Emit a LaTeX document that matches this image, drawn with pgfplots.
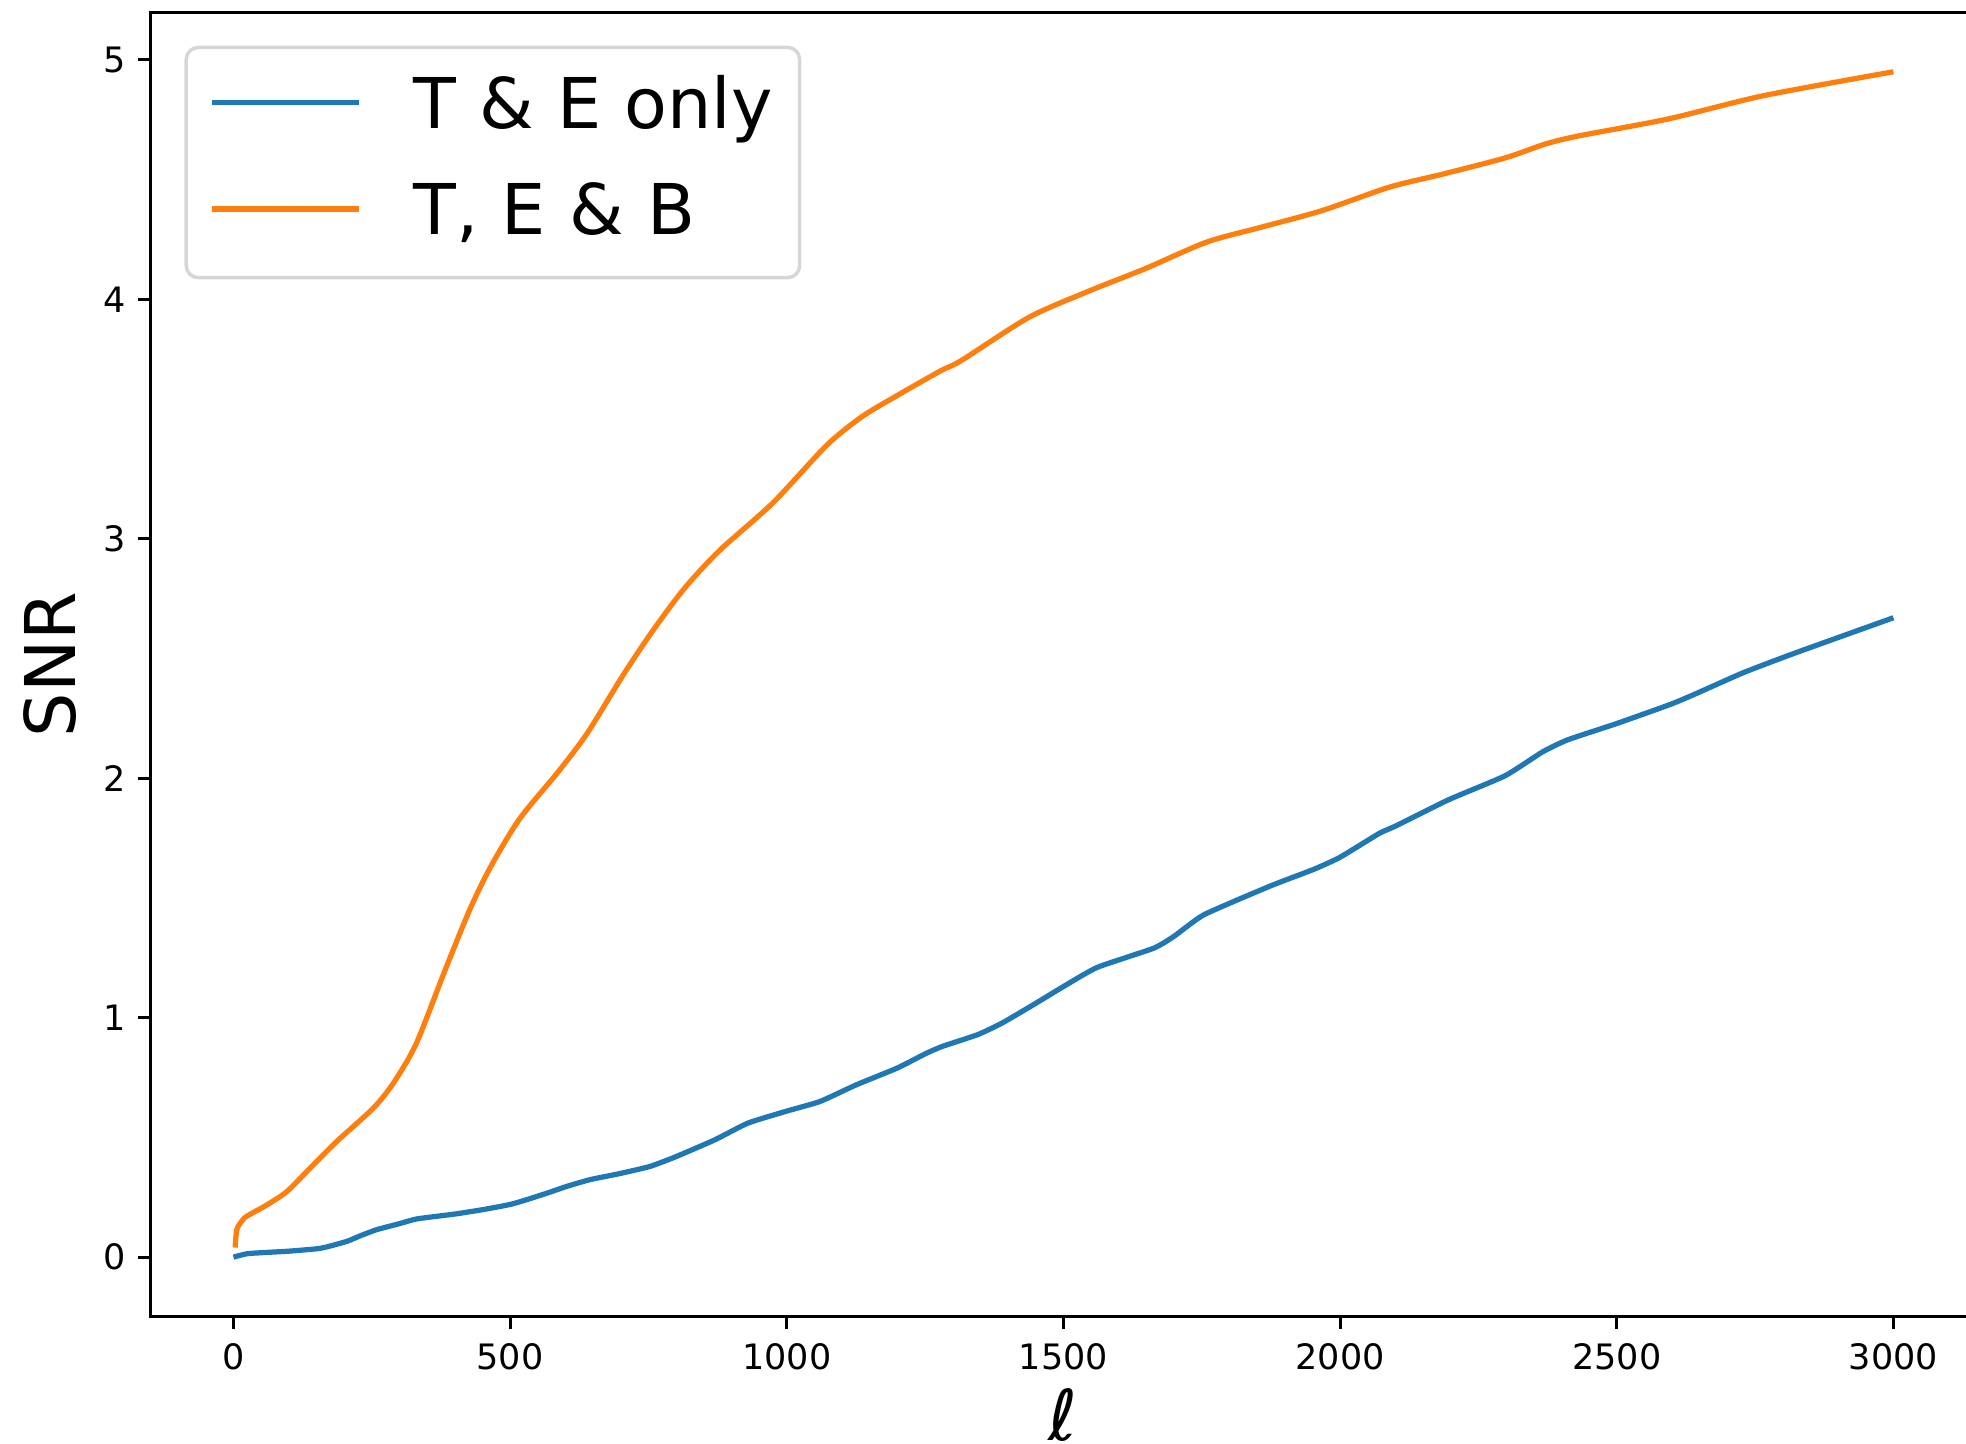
\documentclass[border=0pt]{standalone}
\usepackage{fontspec}
\setmainfont{DejaVu Sans}
\usepackage{pgfplots}
\pgfplotsset{compat=1.18}
\definecolor{tabblue}{HTML}{1F77B4}
\definecolor{taborange}{HTML}{FF7F0E}
\definecolor{legedge}{HTML}{D6D6D6}
\begin{document}
\begin{tikzpicture}
\begin{axis}[
  scale only axis, width=456.5pt, height=326pt,
  xmin=-150, xmax=3150, ymin=-0.2475, ymax=5.1975,
  xtick={0,500,1000,1500,2000,2500,3000},
  ytick={0,1,2,3,4,5},
  scaled x ticks=false,
  /pgf/number format/1000 sep={},
  /pgf/number format/assume math mode=true,
  axis line style={black, line width=0.7pt},
  tick align=outside, xtick pos=lower, ytick pos=left,
  major tick length=3.06pt,
  tick style={black, line width=0.7pt},
  ticklabel style={font=\fontsize{8.75}{10}\selectfont, inner sep=0pt},
  xticklabel style={anchor=north, yshift=-3.6pt},
  yticklabel style={anchor=east, xshift=-2.9pt},
  every axis x label/.style={at={(rel axis cs:0.5,0)}, anchor=base, yshift=-31.1pt, inner sep=0pt, font=\fontsize{17.5}{20}\selectfont},
  every axis y label/.style={at={(rel axis cs:-0.05498,0.5)}, anchor=center, rotate=90, inner sep=0pt, font=\fontsize{17.5}{20}\selectfont},
  xlabel={\itshape ℓ},
  ylabel={SNR},
  legend style={at={(rel axis cs:0,1)}, anchor=north west, xshift=8.5pt, yshift=-8.3pt,
    draw=legedge, line width=0.875pt, rounded corners=3pt, fill=white,
    font=\fontsize{17.5}{20}\selectfont,
    inner xsep=5.9pt, inner ysep=5pt, row sep=5.6pt,
    cells={anchor=base west},
    nodes={inner sep=0pt, text height=15.18pt, text depth=5.8pt, text width=90.7pt, align=left}},
  legend image code/.code={\draw[#1, line width=1.31pt, sharp corners] (0pt,6.38pt) -- (36.7pt,6.38pt); \path[draw=none] (36.7pt,6.38pt) -- (50.2pt,6.38pt);},
]
\addplot[tabblue, line width=1.31pt, smooth, tension=0.3] coordinates {
(0,0) (27,0.015) (100,0.025) (151,0.035) (169,0.043) (205,0.066) (230,0.09)
(259,0.115) (300,0.14) (332,0.16) (400,0.18) (452,0.199) (500,0.22) (530,0.24)
(570,0.27) (603,0.296) (645,0.324) (700,0.35) (753,0.379) (800,0.42) (870,0.49)
(930,0.56) (1000,0.61) (1060,0.65) (1126,0.72) (1200,0.79) (1251,0.85) (1281,0.88)
(1346,0.93) (1391,0.98) (1450,1.06) (1500,1.13) (1561,1.21) (1663,1.29) (1700,1.34)
(1754,1.43) (1874,1.55) (1953,1.62) (2000,1.67) (2071,1.77) (2100,1.80) (2196,1.91)
(2298,2.01) (2366,2.11) (2411,2.16) (2502,2.23) (2599,2.31) (2650,2.36) (2728,2.44)
(2819,2.52) (3000,2.67)
};
\addlegendentry{T \& E only}
\addplot[taborange, line width=1.31pt, smooth, tension=0.45] coordinates {
(3,0.04) (6,0.115) (15,0.15) (24,0.171) (61,0.219) (97,0.275) (139,0.373)
(187,0.484) (253,0.623) (289,0.727) (330,0.89) (381,1.19) (427,1.451) (465,1.631)
(517,1.83) (588,2.03) (640,2.19) (704,2.43) (756,2.61) (814,2.79) (878,2.95)
(975,3.15) (1072,3.39) (1136,3.51) (1201,3.60) (1277,3.70) (1316,3.745) (1438,3.925)
(1549,4.037) (1647,4.127) (1758,4.238) (1856,4.30) (1967,4.37) (2089,4.468)
(2188,4.524) (2298,4.59) (2372,4.649) (2433,4.683) (2593,4.753) (2765,4.85) (3000,4.95)
};
\addlegendentry{T, E \& B}
\coordinate (BL) at (rel axis cs:0,0);
\coordinate (TR) at (rel axis cs:1,1);
\end{axis}
\pgfresetboundingbox
\path[use as bounding box] ([shift={(-37.625pt,-31.875pt)}]BL) rectangle ([shift={(-2.6pt,3.125pt)}]TR);
\end{tikzpicture}
\end{document}
